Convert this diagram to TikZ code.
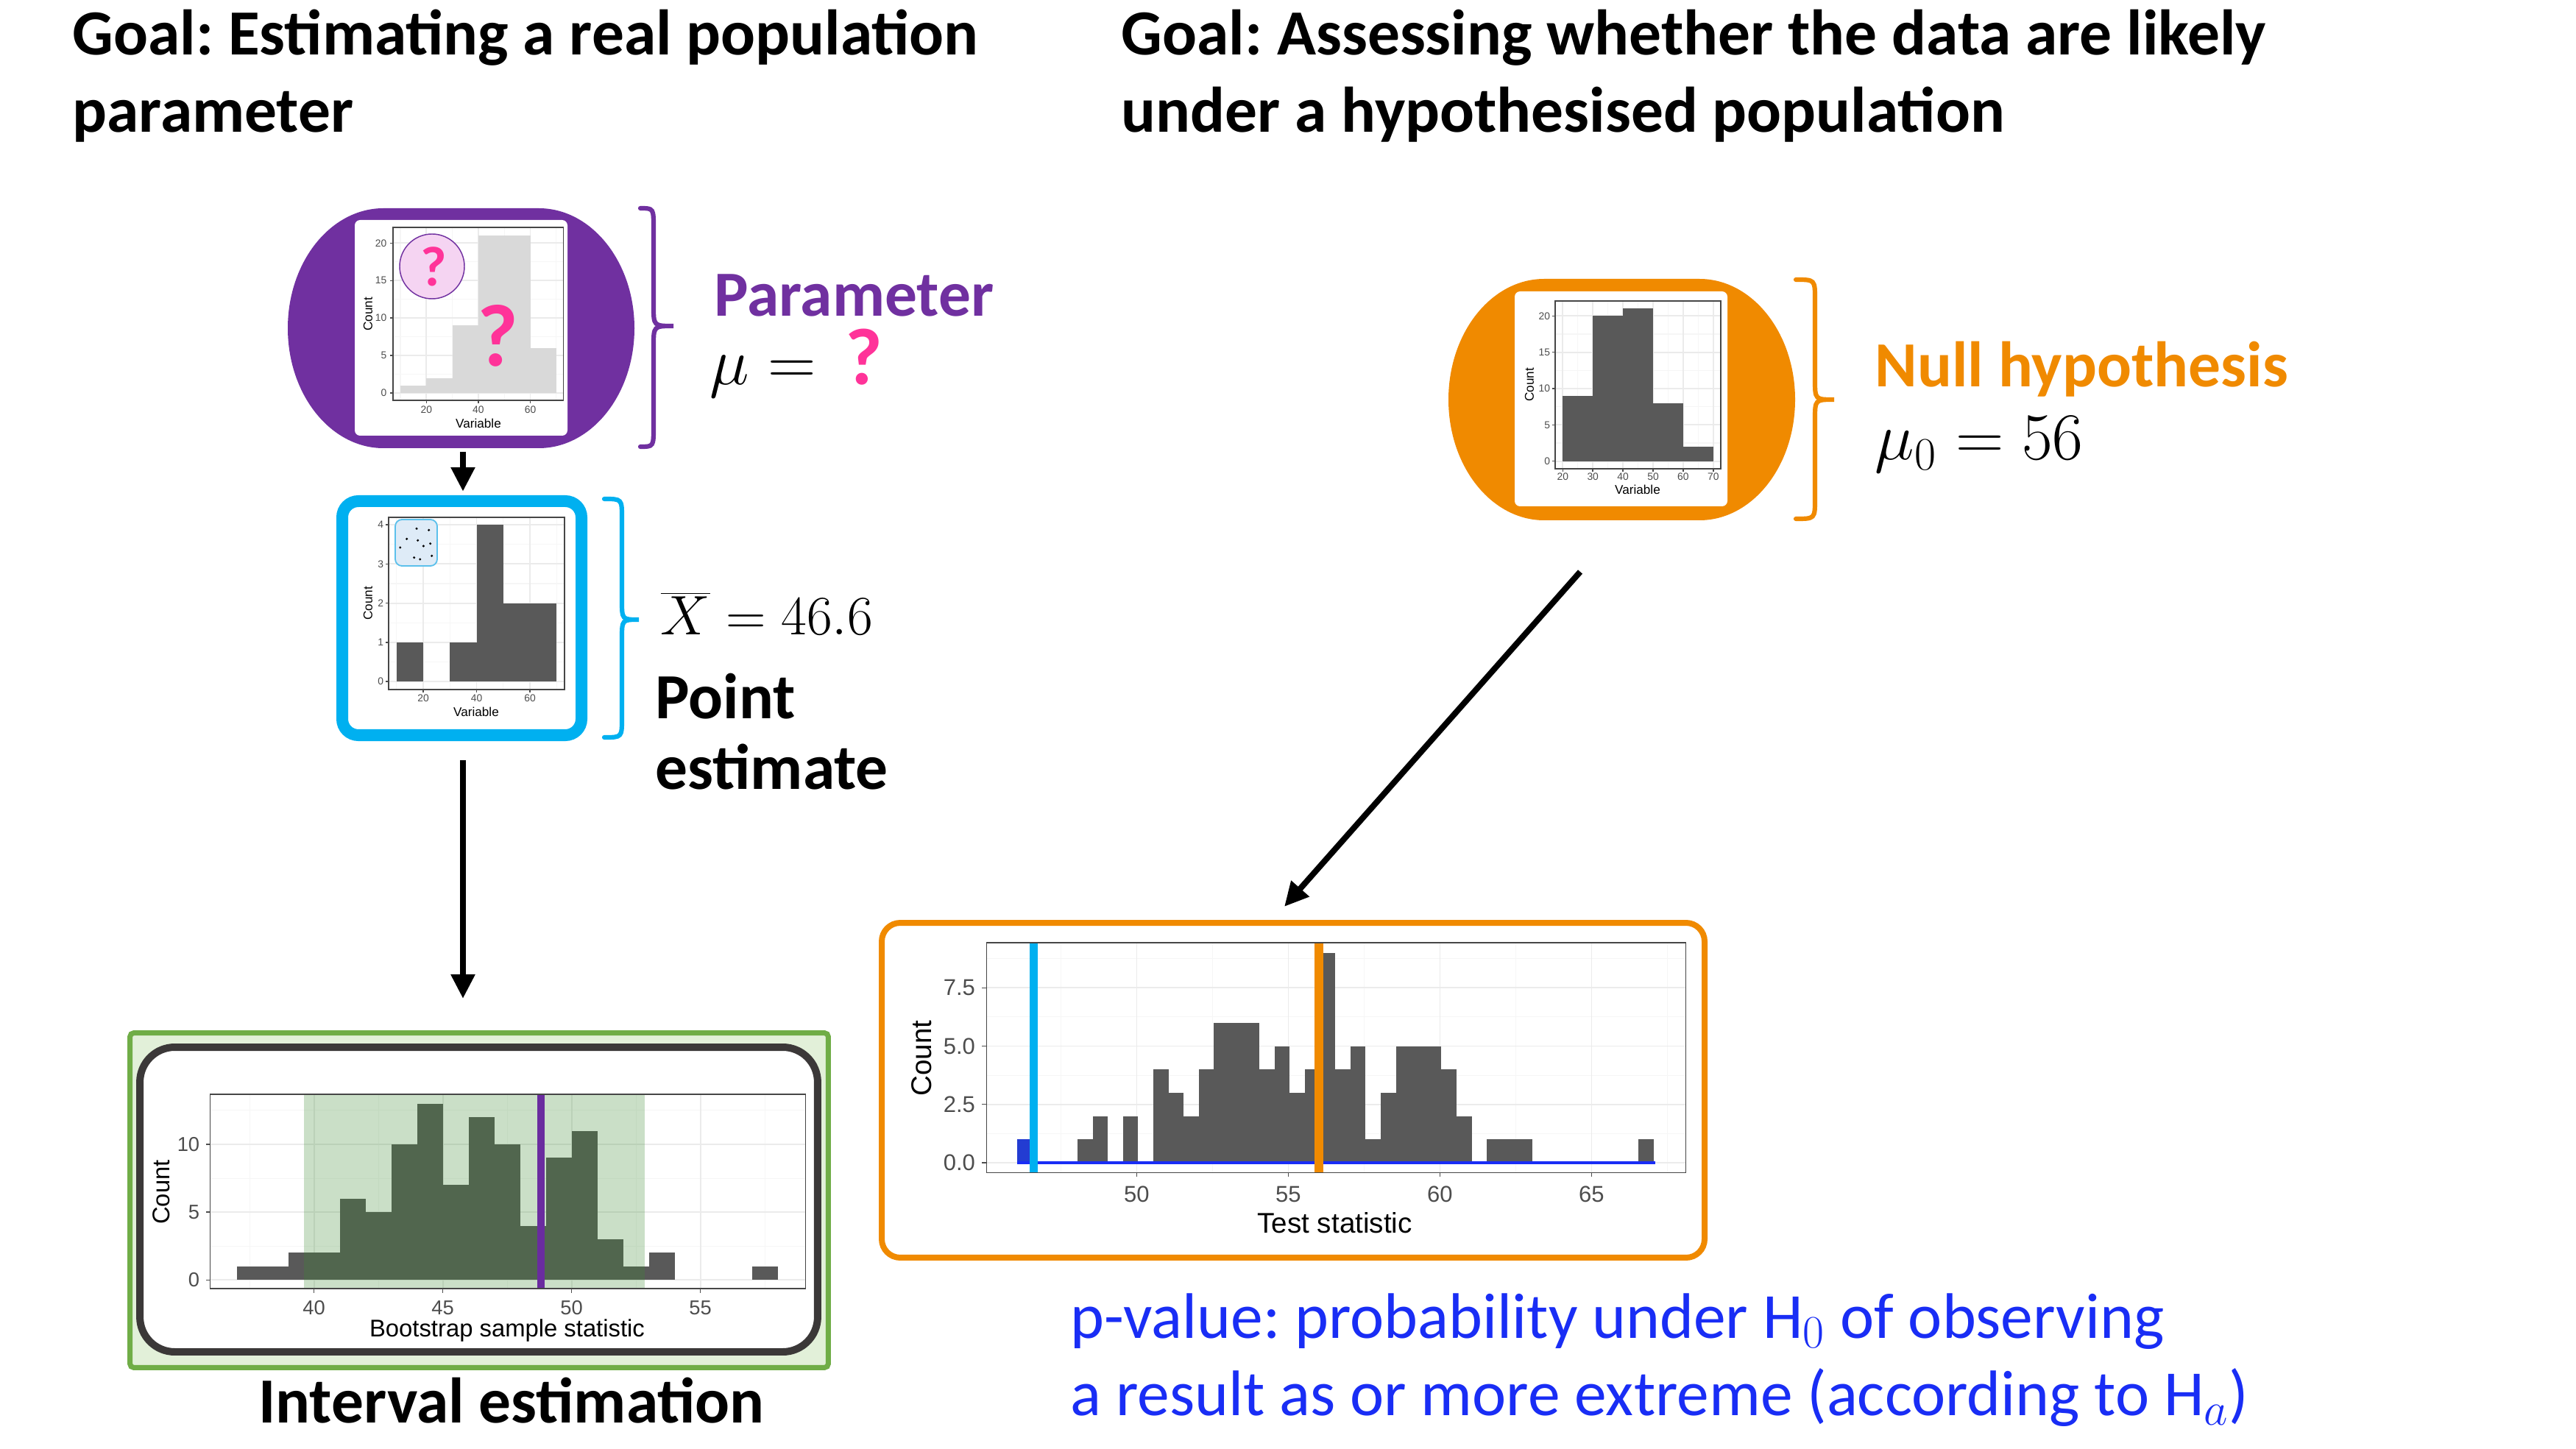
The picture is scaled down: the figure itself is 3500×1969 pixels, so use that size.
\documentclass[tikz,border=0pt]{standalone}
\usepackage{fontspec}
\setmainfont{Carlito}
\newfontfamily\plotfont{Liberation Sans}
\usetikzlibrary{arrows.meta}
\frenchspacing
\definecolor{ppl}{RGB}{112,48,160}
\definecolor{sky}{RGB}{0,176,240}
\definecolor{org}{RGB}{240,138,0}
\definecolor{grn}{RGB}{112,173,71}
\definecolor{lgrn}{RGB}{226,240,217}
\definecolor{pnk}{RGB}{255,51,153}
\definecolor{pnkfill}{RGB}{245,212,242}
\definecolor{barc}{RGB}{89,89,89}
\definecolor{lbarc}{RGB}{217,217,217}
\definecolor{framec}{RGB}{59,56,56}
\definecolor{pblue}{RGB}{25,45,245}
\definecolor{gridmaj}{RGB}{235,235,235}
\definecolor{gridmin}{RGB}{246,246,246}
\definecolor{axtxt}{RGB}{77,77,77}
\definecolor{axframe}{RGB}{70,70,70}
\definecolor{insetfill}{RGB}{222,235,247}
\definecolor{insetdraw}{RGB}{91,192,235}
\definecolor{cibar}{RGB}{60,140,50}
\definecolor{shadeblue}{RGB}{35,60,210}
\definecolor{linepur}{RGB}{106,44,159}
\tikzset{
  ttl/.style={anchor=base west, inner sep=0pt, font=\fontsize{24}{28}\selectfont\bfseries},
  plain/.style={anchor=base west, inner sep=0pt},
  arr/.style={line width=2.2pt, -{Triangle[length=9pt,width=8.5pt]}},
  brace/.style={line width=1.7pt, line cap=round},
  gmaj/.style={draw=gridmaj, line width=0.5pt},
  gmin/.style={draw=gridmin, line width=0.3pt},
  pframe/.style={draw=axframe, line width=0.45pt},
  tickc/.style={draw=axtxt, line width=0.4pt},
  tkA/.style={font=\plotfont\fontsize{3.8}{4}\selectfont, text=axtxt, inner sep=0pt},
  lbA/.style={font=\plotfont\fontsize{4.7}{5}\selectfont, inner sep=0pt},
  tkD/.style={font=\plotfont\fontsize{7.5}{8}\selectfont, text=axtxt, inner sep=0pt},
  lbD/.style={font=\plotfont\fontsize{9}{10}\selectfont, inner sep=0pt},
  tkE/.style={font=\plotfont\fontsize{8.5}{9}\selectfont, text=axtxt, inner sep=0pt},
  lbE/.style={font=\plotfont\fontsize{10.6}{11}\selectfont, inner sep=0pt},
}
\begin{document}
\begin{tikzpicture}[x=0.2743pt,y=-0.2743pt]
\useasboundingbox (0,0) rectangle (3500,1969);
\fill[white] (0,0) rectangle (3500,1969);

% ---------- titles ----------
\node[ttl] (t1a) at (98,75) {Goal: Estimating a real population};
\node[ttl] (t1b) at (98,180) {parameter};
\node[ttl] (t2a) at (1523,75) {Goal: Assessing whether the data are likely};
\node[ttl] (t2b) at (1523,180) {under a hypothesised population};

% ---------- population (purple) ----------
\fill[ppl] (521,283) -- (732,283) .. controls (803.8,283) and (862,356) .. (862,446)
  .. controls (862,536) and (803.8,609) .. (732,609) -- (521,609)
  .. controls (449.2,609) and (391,536) .. (391,446)
  .. controls (391,356) and (449.2,283) .. cycle;
\fill[white, rounded corners=2pt] (482,299) rectangle (771,592);
\begin{scope}[shift={(508.7,534)},xscale=3.53,yscale=-10.18]
  \foreach \g in {10,30,50,70} \draw[gmin] (\g,-0.98) -- (\g,22.1);
  \foreach \g in {2.5,7.5,12.5,17.5} \draw[gmin] (7.17,\g) -- (72.7,\g);
  \foreach \g in {20,40,60} \draw[gmaj] (\g,-0.98) -- (\g,22.1);
  \foreach \g in {0,5,10,15,20} \draw[gmaj] (7.17,\g) -- (72.7,\g);
  \fill[lbarc] (10,0) rectangle (20,1);
  \fill[lbarc] (20,0) rectangle (30,2);
  \fill[lbarc] (30,0) rectangle (40,9);
  \fill[lbarc] (40,0) rectangle (60,21);
  \fill[lbarc] (60,0) rectangle (70,6);
  \draw[pframe] (7.17,-0.98) rectangle (72.7,22.1);
  \foreach \g in {20,40,60} {\draw[tickc] (\g,-0.98) -- ++(0,-0.39); \node[tkA] at (\g,-2.26) {\g};}
  \foreach \g in {0,5,10,15,20} {\draw[tickc] (7.17,\g) -- ++(-1.13,0); \node[tkA,anchor=east] at (4.9,\g) {\g};}
\end{scope}
\node[lbA, rotate=90] (cntA) at (500,427) {Count};
\node[lbA] (varA) at (650,575) {Variable};
\draw[ppl, line width=0.4pt, fill=pnkfill] (587,362) circle[radius=44];
\node[text=pnk, font=\fontsize{21}{22}\selectfont\bfseries, inner sep=0pt] (qs) at (589,362) {?};
\node[text=pnk, font=\fontsize{33}{34}\selectfont\bfseries, inner sep=0pt] (qb) at (676,456) {?};
\coordinate (popS) at (629,614);

% purple brace + labels
\draw[brace, ppl] (870,283) .. controls (888,283) .. (888,310) -- (888,416)
  .. controls (888,443) .. (915,443) .. controls (888,443) .. (888,470) -- (888,580)
  .. controls (888,607) .. (870,607);
\node[plain, text=ppl, font=\fontsize{24}{28}\selectfont\bfseries] (param) at (970,430) {Parameter};
\node[plain] (mueq) at (964,523) {\fontsize{26}{28}\selectfont$\mu={}$\hspace{4pt}{\color{pnk}\fontsize{30}{30}\selectfont\bfseries ?}};

% ---------- sample (blue box) ----------
\node[draw=sky, fill=white, line width=4.39pt, rounded corners=6pt, minimum width=89.15pt, minimum height=87.23pt, inner sep=0pt] (sampbox) at (627.5,840) {};
\begin{scope}[shift={(502.5,926)},xscale=3.625,yscale=-53.2]
  \foreach \g in {10,30,50,70} \draw[gmin] (\g,-0.21) -- (\g,4.19);
  \foreach \g in {0.5,1.5,2.5,3.5} \draw[gmin] (7.03,\g) -- (72.97,\g);
  \foreach \g in {20,40,60} \draw[gmaj] (\g,-0.21) -- (\g,4.19);
  \foreach \g in {0,1,2,3,4} \draw[gmaj] (7.03,\g) -- (72.97,\g);
  \fill[barc] (10,0) rectangle (20,1);
  \fill[barc] (30,0) rectangle (40,1);
  \fill[barc] (40,0) rectangle (50,4);
  \fill[barc] (50,0) rectangle (70,2);
  \draw[pframe] (7.03,-0.21) rectangle (72.97,4.19);
  \foreach \g in {20,40,60} {\draw[tickc] (\g,-0.21) -- ++(0,-0.075); \node[tkA] at (\g,-0.43) {\g};}
  \foreach \g in {0,1,2,3,4} {\draw[tickc] (7.03,\g) -- ++(-1.1,0); \node[tkA,anchor=east] at (5.3,\g) {\g};}
\end{scope}
\node[lbA, rotate=90] (cntB) at (500,820) {Count};
\node[lbA] (varB) at (647,967) {Variable};
\draw[insetdraw, fill=insetfill, line width=0.5pt, rounded corners=2.5pt] (537,706) rectangle (594,769);
\foreach \p in {(566,718.3),(582.7,720.3),(552.7,732.3),(567.7,734.3),(543.7,744),(575.3,742),(584.7,738.7),(562.7,757.7),(570.7,760),(586.7,755.3)}
  \fill[black] \p circle[radius=1.7];

% blue brace + labels
\draw[brace, sky] (821,678) .. controls (845,678) .. (845,704) -- (845,816)
  .. controls (845,842) .. (868,842) .. controls (845,842) .. (845,868) -- (845,976)
  .. controls (845,1002) .. (821,1002);
\node[plain] (xbar) at (897,863) {\fontsize{20}{22}\selectfont$\overline{X}=46.6$};
\node[plain, font=\fontsize{24}{28}\selectfont\bfseries] (pt1) at (890,977) {Point};
\node[plain, font=\fontsize{24}{28}\selectfont\bfseries] (pt2) at (890,1072) {estimate};

% ---------- bootstrap (green) ----------
\node[draw=grn, fill=lgrn, line width=1.92pt, rounded corners=1.5pt, minimum width=260.3pt, minimum height=124.8pt, inner sep=0pt] (ivbox) at (651,1631) {};
\node[draw=framec, fill=white, line width=2.74pt, rounded corners=13pt, minimum width=252.6pt, minimum height=113.56pt, inner sep=0pt] (frm) at (650.5,1630) {};
\begin{scope}[shift={(-973.4,1739.3)},xscale=35,yscale=-18.43]
  \foreach \g in {37.5,42.5,47.5,52.5,57.5} \draw[gmin] (\g,-0.63) -- (\g,13.7);
  \foreach \g in {2.5,7.5,12.5} \draw[gmin] (35.97,\g) -- (59.08,\g);
  \foreach \g in {40,45,50,55} \draw[gmaj] (\g,-0.63) -- (\g,13.7);
  \foreach \g in {0,5,10} \draw[gmaj] (35.97,\g) -- (59.08,\g);
  \foreach \b/\h in {37/1,38/1,39/2,40/2,41/6,42/5,43/10,44/13,45/7,46/12,47/10,48/4,49/9,50/11,51/3,52/1,53/2,57/1}
    \fill[barc] (\b,0) rectangle ({\b+1},\h);
  \fill[cibar, opacity=0.27] (39.6,-0.63) rectangle (52.85,13.7);
  \draw[linepur, line width=2.7pt] (48.8,-0.63) -- (48.8,13.7);
  \draw[pframe] (35.97,-0.63) rectangle (59.08,13.7);
  \foreach \g in {40,45,50,55} {\draw[tickc] (\g,-0.63) -- ++(0,-0.33); \node[tkD] at (\g,-2.05) {\g};}
  \foreach \g in {0,5,10} {\draw[tickc] (35.97,\g) -- ++(-0.17,0); \node[tkD,anchor=east] at (35.58,\g) {\g};}
\end{scope}
\node[lbD, rotate=90] (cntD) at (219.5,1620) {Count};
\node[lbD] (varD) at (689,1808) {Bootstrap sample statistic};
\node[anchor=base, inner sep=0pt, font=\fontsize{24}{28}\selectfont\bfseries] (ivlab) at (695,1933) {Interval estimation};

% ---------- null population (orange) ----------
\fill[org] (2098,379) -- (2309,379) .. controls (2380.8,379) and (2439,452.4) .. (2439,543)
  .. controls (2439,633.6) and (2380.8,707) .. (2309,707) -- (2098,707)
  .. controls (2026.2,707) and (1968,633.6) .. (1968,543)
  .. controls (1968,452.4) and (2026.2,379) .. cycle;
\fill[white, rounded corners=2pt] (2058,396) rectangle (2347,688);
\begin{scope}[shift={(2041.5,626.7)},xscale=4.09,yscale=-9.87]
  \foreach \g in {25,35,45,55,65} \draw[gmin] (\g,-1.04) -- (\g,22.06);
  \foreach \g in {2.5,7.5,12.5,17.5} \draw[gmin] (17.5,\g) -- (72.5,\g);
  \foreach \g in {20,30,40,50,60,70} \draw[gmaj] (\g,-1.04) -- (\g,22.06);
  \foreach \g in {0,5,10,15,20} \draw[gmaj] (17.5,\g) -- (72.5,\g);
  \fill[barc] (20,0) rectangle (30,9);
  \fill[barc] (30,0) rectangle (40,20);
  \fill[barc] (40,0) rectangle (50,21);
  \fill[barc] (50,0) rectangle (60,8);
  \fill[barc] (60,0) rectangle (70,2);
  \draw[pframe] (17.5,-1.04) rectangle (72.5,22.06);
  \foreach \g in {20,30,40,50,60,70} {\draw[tickc] (\g,-1.04) -- ++(0,-0.4); \node[tkA] at (\g,-2.16) {\g};}
  \foreach \g in {0,5,10,15,20} {\draw[tickc] (17.5,\g) -- ++(-0.98,0); \node[tkA,anchor=east] at (15.94,\g) {\g};}
\end{scope}
\node[lbA, rotate=90] (cntC) at (2078,523) {Count};
\node[lbA] (varC) at (2225,665) {Variable};
\coordinate (nullS) at (2147,777);

% orange brace + labels
\draw[brace, org] (2440,380) .. controls (2466,380) .. (2466,407) -- (2466,516)
  .. controls (2466,543) .. (2492,543) .. controls (2466,543) .. (2466,570) -- (2466,678)
  .. controls (2466,705) .. (2440,705);
\node[plain, text=org, font=\fontsize{24}{28}\selectfont\bfseries] (nullh) at (2547,526) {Null hypothesis};
\node[plain] (mu0) at (2547,625) {\fontsize{26}{28}\selectfont$\mu_0=56$};

% ---------- test statistic (orange box) ----------
\node[draw=org, fill=white, line width=2.19pt, rounded corners=6.9pt, minimum width=306.67pt, minimum height=124.8pt, inner sep=0pt] (testbox) at (1757,1481.5) {};
\coordinate (testN) at (1745,1232);
\begin{scope}[shift={(-515.6,1580)},xscale=41.2,yscale=-31.7]
  \foreach \g in {47.5,52.5,57.5,62.5,67.5} \draw[gmin] (\g,-0.42) -- (\g,9.43);
  \foreach \g in {1.25,3.75,6.25,8.75} \draw[gmin] (45.05,\g) -- (68.11,\g);
  \foreach \g in {50,55,60,65} \draw[gmaj] (\g,-0.42) -- (\g,9.43);
  \foreach \g in {0,2.5,5,7.5} \draw[gmaj] (45.05,\g) -- (68.11,\g);
  \foreach \k/\h in {4/1,5/2,7/2,9/4,10/3,11/2,12/4,13/6,14/6,15/6,16/4,17/5,18/3,19/4,20/9,21/4,22/5,23/1,24/3,25/5,26/5,27/5,28/4,29/2,31/1,32/1,33/1,41/1}
    \fill[barc] ({46.05+0.5*\k},0) rectangle ({46.55+0.5*\k},\h);
  \fill[shadeblue] (46.05,0) rectangle (46.55,1);
  \draw[pblue, line width=0.9pt] (46.05,0) -- (67.1,0);
  \draw[sky, line width=3pt] (46.6,-0.42) -- (46.6,9.43);
  \draw[org, line width=3.3pt] (56,-0.42) -- (56,9.43);
  \draw[pframe] (45.05,-0.42) rectangle (68.11,9.43);
  \foreach \g in {50,55,60,65} {\draw[tickc] (\g,-0.42) -- ++(0,-0.19); \node[tkE] at (\g,-1.36) {\g};}
  \foreach \g/\t in {0/0.0,2.5/2.5,5/5.0,7.5/7.5} {\draw[tickc] (45.05,\g) -- ++(-0.15,0); \node[tkE,anchor=east] at (44.69,\g) {\t};}
\end{scope}
\node[lbE, rotate=90] (cntE) at (1252,1438) {Count};
\node[lbE] (varE) at (1813.6,1662) {Test statistic};

% p-value text
\node[plain, text=pblue, font=\fontsize{24}{28}\selectfont] (pv1) at (1454,1818) {p-value: probability under $\mathrm{H}_0$ of observing};
\node[plain, text=pblue, font=\fontsize{24}{28}\selectfont] (pv2) at (1454,1923) {a result as or more extreme (according to $\mathrm{H}_a$)};

% ---------- arrows ----------
\coordinate (sampS) at (629,1007);
\draw[arr, shorten >=1.4pt] (popS) -- (popS |- sampbox.north);
\draw[arr, shorten <=7.1pt, shorten >=11.8pt] (sampS) -- (sampS |- ivbox.north);
\draw[arr] (nullS) -- (testN);
\end{tikzpicture}
\end{document}
